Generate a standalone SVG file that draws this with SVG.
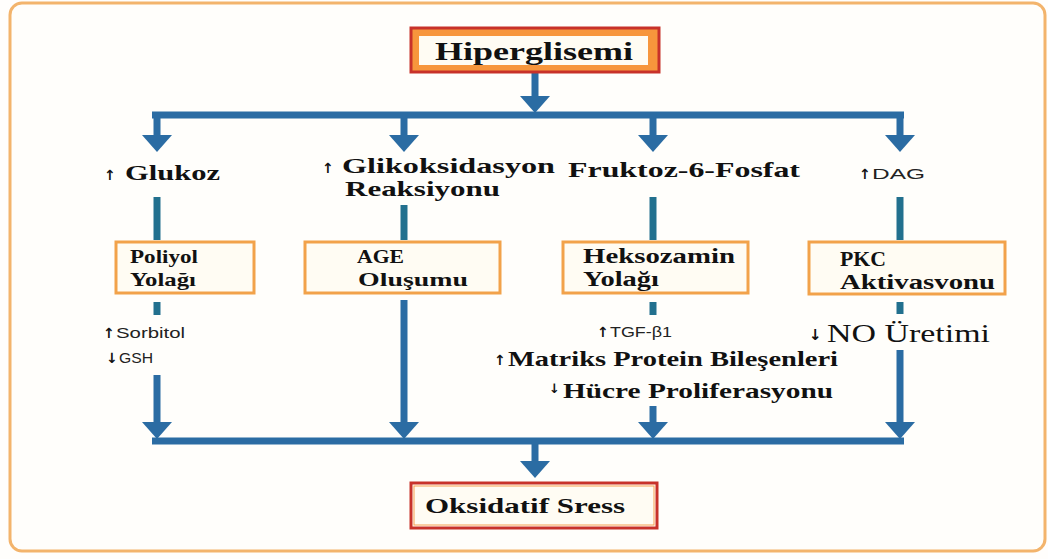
<svg xmlns="http://www.w3.org/2000/svg" width="1048" height="559" viewBox="0 0 1048 559">
<style>
.ln{stroke:#2b6ca3;stroke-width:7;fill:none}
.st{stroke:#22708e;stroke-width:7;fill:none}
.hd{fill:#2b6ca3}
.box{fill:#fffcf3;stroke:#f2a24a;stroke-width:3}
.t{font-family:"Liberation Serif",serif;font-weight:bold;fill:#111}
.n{font-family:"Liberation Serif",serif;fill:#111}
.s{font-family:"Liberation Sans",Arial,sans-serif;fill:#222}
.ar{font-family:"DejaVu Sans",sans-serif;font-weight:bold;fill:#111}
</style>
<defs>
<path id="ah" d="M-15,0 L15,0 L0,17 Z"/>
</defs>
<rect x="0" y="0" width="1048" height="559" fill="#fffefc"/>
<rect x="10" y="3" width="1035" height="548" rx="12" fill="#fffefb" stroke="#f3b46c" stroke-width="3"/>

<g id="connectors">
<line class="ln" x1="535" y1="73" x2="535" y2="98"/>
<use href="#ah" x="535" y="96" class="hd"/>
<line class="ln" x1="152" y1="115" x2="904" y2="115"/>
<line class="ln" x1="157" y1="112" x2="157" y2="137"/>
<use href="#ah" x="157" y="135" class="hd"/>
<line class="ln" x1="404" y1="112" x2="404" y2="137"/>
<use href="#ah" x="404" y="135" class="hd"/>
<line class="ln" x1="653" y1="112" x2="653" y2="137"/>
<use href="#ah" x="653" y="135" class="hd"/>
<line class="ln" x1="900" y1="112" x2="900" y2="137"/>
<use href="#ah" x="900" y="135" class="hd"/>
<line class="st" x1="157" y1="197" x2="157" y2="240"/>
<line class="st" x1="404" y1="205" x2="404" y2="240"/>
<line class="st" x1="653" y1="197" x2="653" y2="240"/>
<line class="st" x1="900" y1="197" x2="900" y2="240"/>
<line class="st" x1="157" y1="302" x2="157" y2="315"/>
<line class="ln" x1="157" y1="375" x2="157" y2="424"/>
<use href="#ah" x="157" y="422" class="hd"/>
<line class="ln" x1="404" y1="300" x2="404" y2="424"/>
<use href="#ah" x="404" y="422" class="hd"/>
<line class="st" x1="653" y1="302" x2="653" y2="315"/>
<line class="ln" x1="653" y1="406" x2="653" y2="424"/>
<use href="#ah" x="653" y="422" class="hd"/>
<line class="st" x1="900" y1="302" x2="900" y2="314"/>
<line class="ln" x1="900" y1="350" x2="900" y2="424"/>
<use href="#ah" x="900" y="422" class="hd"/>
<line class="ln" x1="152" y1="441" x2="904" y2="441"/>
<line class="ln" x1="535" y1="441" x2="535" y2="463"/>
<use href="#ah" x="535" y="461" class="hd"/>
</g>

<g id="hiperglisemi">
<rect x="411" y="28" width="248" height="44" fill="#f7963c" stroke="#c8322a" stroke-width="3"/>
<rect x="419" y="36" width="229" height="29" fill="#fffcf3"/>
<text class="t" x="435" y="60" font-size="25" textLength="198" lengthAdjust="spacingAndGlyphs">Hiperglisemi</text>
</g>

<g id="glukoz">
<text class="ar" x="104" y="180" font-size="14">↑</text>
<text class="t" x="125" y="180" font-size="22" textLength="95" lengthAdjust="spacingAndGlyphs">Glukoz</text>
</g>
<g id="glikoksidasyon">
<text class="ar" x="322" y="173" font-size="14">↑</text>
<text class="t" x="342" y="173" font-size="22" textLength="213" lengthAdjust="spacingAndGlyphs">Glikoksidasyon</text>
<text class="t" x="345" y="196" font-size="22" textLength="155" lengthAdjust="spacingAndGlyphs">Reaksiyonu</text>
</g>
<g id="fruktoz">
<text class="t" x="568" y="177" font-size="22" textLength="232" lengthAdjust="spacingAndGlyphs">Fruktoz-6-Fosfat</text>
</g>
<g id="dag">
<text class="ar" x="859" y="179" font-size="14">↑</text>
<text class="s" x="872" y="179" font-size="15" textLength="53" lengthAdjust="spacingAndGlyphs">DAG</text>
</g>

<g id="poliyol">
<rect class="box" x="116" y="242" width="138" height="51"/>
<text class="t" x="130" y="263" font-size="19" textLength="68" lengthAdjust="spacingAndGlyphs">Poliyol</text>
<text class="t" x="130" y="286" font-size="19" textLength="66" lengthAdjust="spacingAndGlyphs">Yolağı</text>
</g>
<g id="age">
<rect class="box" x="305" y="242" width="195" height="51"/>
<text class="t" x="357" y="263" font-size="19" textLength="47" lengthAdjust="spacingAndGlyphs">AGE</text>
<text class="t" x="358" y="286" font-size="19" textLength="110" lengthAdjust="spacingAndGlyphs">Oluşumu</text>
</g>
<g id="heksozamin">
<rect class="box" x="563" y="242" width="185" height="51"/>
<text class="t" x="583" y="263" font-size="20" textLength="152" lengthAdjust="spacingAndGlyphs">Heksozamin</text>
<text class="t" x="583" y="286" font-size="20" textLength="76" lengthAdjust="spacingAndGlyphs">Yolağı</text>
</g>
<g id="pkc">
<rect class="box" x="809" y="242" width="196" height="52"/>
<text class="t" x="840" y="266" font-size="20" textLength="46" lengthAdjust="spacingAndGlyphs">PKC</text>
<text class="t" x="840" y="289" font-size="20" textLength="155" lengthAdjust="spacingAndGlyphs">Aktivasvonu</text>
</g>

<g id="sorbitol">
<text class="ar" x="103" y="338" font-size="14">↑</text>
<text class="s" x="116" y="338" font-size="15" textLength="69" lengthAdjust="spacingAndGlyphs">Sorbitol</text>
<text class="ar" x="106" y="363" font-size="14">↓</text>
<text class="s" x="119" y="363" font-size="15" textLength="34" lengthAdjust="spacingAndGlyphs">GSH</text>
</g>
<g id="tgf">
<text class="ar" x="597" y="337" font-size="14">↑</text>
<text class="s" x="610" y="337" font-size="15" textLength="62" lengthAdjust="spacingAndGlyphs">TGF-β1</text>
<text class="ar" x="494" y="365" font-size="14">↑</text>
<text class="t" x="508" y="366" font-size="21" textLength="330" lengthAdjust="spacingAndGlyphs">Matriks Protein Bileşenleri</text>
<text class="ar" x="549" y="393" font-size="13">↓</text>
<text class="t" x="563" y="398" font-size="21" textLength="270" lengthAdjust="spacingAndGlyphs">Hücre Proliferasyonu</text>
</g>
<g id="no">
<text class="ar" x="809" y="340" font-size="15">↓</text>
<text class="n" x="827" y="342" font-size="25" textLength="163" lengthAdjust="spacingAndGlyphs">NO Üretimi</text>
</g>

<g id="oksidatif">
<rect x="411" y="483" width="246" height="45" fill="#fffcf3" stroke="#c8322a" stroke-width="3"/>
<rect x="414" y="486" width="240" height="39" fill="none" stroke="#f7a050" stroke-width="1"/>
<text class="t" x="425" y="513" font-size="22" textLength="200" lengthAdjust="spacingAndGlyphs">Oksidatif Sress</text>
</g>
</svg>
